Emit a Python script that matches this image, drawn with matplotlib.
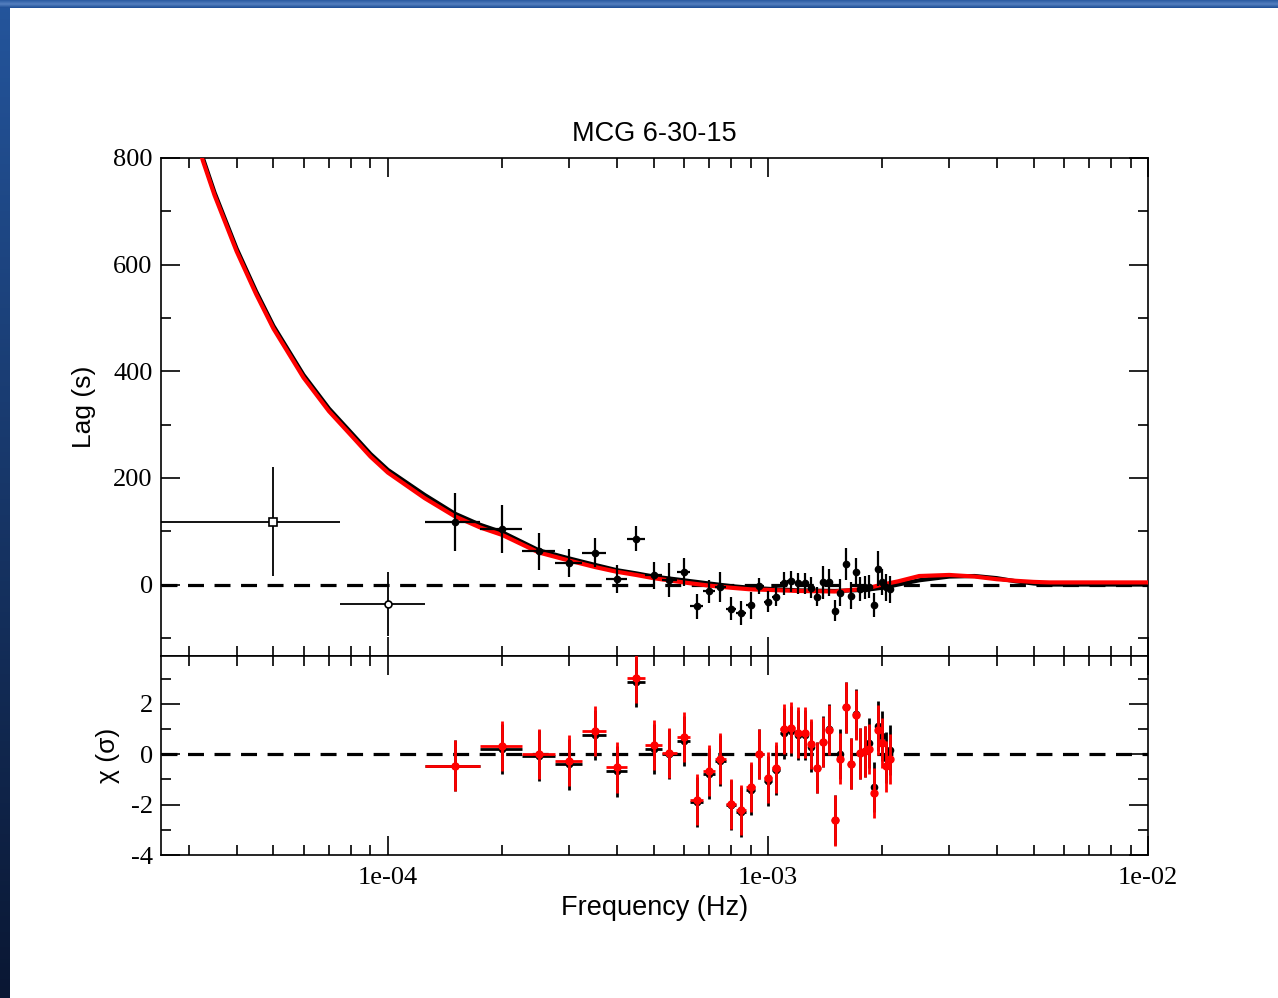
import numpy as np
import matplotlib
matplotlib.use("Agg")
import matplotlib.pyplot as plt
from matplotlib.colors import LinearSegmentedColormap
from matplotlib.ticker import LogLocator, NullFormatter, MultipleLocator

plt.rcParams["axes.unicode_minus"] = False

# ---- data -------------------------------------------------------------
freq = [5e-5, 1.0e-4, 1.5e-4, 2.0e-4, 2.5e-4, 3.0e-4, 3.5e-4, 4.0e-4, 4.5e-4, 5.0e-4,
        5.5e-4, 6.0e-4, 6.5e-4, 7.0e-4, 7.5e-4, 8.0e-4, 8.5e-4, 9.0e-4, 9.5e-4, 1.0e-3,
        1.05e-3, 1.1e-3, 1.15e-3, 1.2e-3, 1.25e-3, 1.3e-3, 1.35e-3, 1.4e-3, 1.45e-3, 1.5e-3,
        1.55e-3, 1.6e-3, 1.65e-3, 1.7e-3, 1.75e-3, 1.8e-3, 1.85e-3, 1.9e-3, 1.95e-3, 2.0e-3,
        2.05e-3, 2.1e-3]
bin_half = 2.5e-5
lag = [118, -36, 117, 105, 62, 41, 60, 11, 86, 17,
       9, 23, -41, -13, -5, -45, -53, -39, -2, -32,
       -23, 2, 6, 2, 2, -6, -23, 4, 4, -49,
       -15, 38, -21, 24, -8, -6, -4, -38, 30, 5,
       -5, -9]
lag_err = [102, 60, 55, 45, 35, 26, 28, 26, 24, 25,
           32, 26, 23, 21, 28, 22, 22, 25, 15, 19,
           18, 21, 20, 20, 20, 20, 18, 31, 25, 20,
           25, 30, 25, 25, 22, 22, 22, 22, 33, 25,
           25, 25]

# residuals (fitted points only: from 1.5e-4 Hz on)
chi_red = [-0.45, 0.33, 0.0, -0.25, 0.93, -0.52, 3.03, 0.36, 0.05, 0.68,
           -1.8, -0.65, -0.17, -1.98, -2.22, -1.3, 0.0, -0.93, -0.53, 1.0,
           1.06, 0.86, 0.86, 0.4, -0.53, 0.48, 0.97, -2.63, -0.17, 1.86,
           -0.37, 1.56, 0.03, 0.11, 0.2, -1.55, 0.97, 0.44, -0.48, -0.2]
chi_black = [-0.45, 0.2, -0.05, -0.4, 0.77, -0.68, 2.87, 0.2, 0.0, 0.52,
             -1.9, -0.77, -0.25, -2.02, -2.3, -1.4, 0.02, -1.05, -0.62, 0.83,
             0.93, 0.77, 0.77, 0.3, -0.53, 0.5, 1.0, -2.6, 0.0, 1.86,
             -0.37, 1.6, 0.03, 0.11, 0.44, -1.3, 1.13, 0.73, -0.13, 0.16]

# model curves
model_freq = [2.6e-5, 3.0e-5, 3.26e-5, 3.5e-5, 4e-5, 4.5e-5, 5e-5, 6e-5, 7e-5, 8e-5,
              9e-5, 1e-4, 1.25e-4, 1.5e-4, 1.75e-4, 2e-4, 2.5e-4, 3e-4, 3.5e-4, 4e-4,
              4.5e-4, 5e-4, 6e-4, 7e-4, 8e-4, 9e-4, 1e-3, 1.2e-3, 1.5e-3, 1.8e-3,
              2e-3, 2.2e-3, 2.5e-3, 3e-3, 3.5e-3, 4e-3, 4.5e-3, 5e-3, 5.5e-3, 6e-3,
              7e-3, 8e-3, 1e-2]
model_black = [1060, 890, 800, 735, 630, 550, 485, 393, 330, 285,
               245, 215, 168, 133, 112, 98, 64, 49, 37, 27,
               21, 15, 8, 2, -3, -6, -8, -11, -12, -10,
               -6, 0, 8, 15, 16, 12, 6, 2, 0, 0,
               0, 0, 0]
model_red = [1060, 885, 795, 730, 625, 545, 480, 388, 325, 280,
             240, 210, 162, 128, 107, 93, 60, 45, 33, 24,
             18, 12, 4, -2, -6, -9, -10, -12, -13, -8,
             0, 6, 16, 18, 15, 10, 7, 5, 4, 4,
             4, 4, 4]

# ---- figure -----------------------------------------------------------
fig = plt.figure(figsize=(12.78, 9.98), dpi=100)

# blue frame of the slide
gl = fig.add_axes([0, 0, 10 / 1278, 1])
gl.imshow(np.linspace(0, 1, 256)[:, None], aspect="auto",
          cmap=LinearSegmentedColormap.from_list("l", ["#24559c", "#0a1733"]))
gl.axis("off")
gt = fig.add_axes([0, 1 - 8 / 998, 1, 8 / 998])
gt.imshow(np.linspace(0, 1, 16)[:, None], aspect="auto",
          cmap=LinearSegmentedColormap.from_list("t", ["#2c5ca2", "#5580c0", "#1f4f96"]))
gt.axis("off")

L, R = 161 / 1278, 1148 / 1278
ax1 = fig.add_axes([L, 1 - 656 / 998, R - L, (656 - 158) / 998])
ax2 = fig.add_axes([L, 1 - 855 / 998, R - L, (855 - 656) / 998], sharex=ax1)

serif = "Liberation Serif"
sans = "Liberation Sans"

x = np.array(freq)
fitted = x[2:]

# top panel
ax1.plot(model_freq, model_black, color="black", lw=3.0, zorder=2)
ax1.axhline(0, color="black", lw=2.3, dashes=(5, 3.3), zorder=2.5)
ax1.plot(model_freq, model_red, color="red", lw=3.0, zorder=3)
ax1.errorbar(x[2:], lag[2:], xerr=bin_half, yerr=lag_err[2:], fmt="o", color="black",
             ms=4.5, elinewidth=1.6, capsize=0, zorder=4)
ax1.errorbar(x[0], lag[0], xerr=bin_half, yerr=lag_err[0], fmt="s", color="black",
             mfc="white", ms=6, mew=1.2, elinewidth=1.3, capsize=0, zorder=4)
ax1.errorbar(x[1], lag[1], xerr=bin_half, yerr=lag_err[1], fmt="o", color="black",
             mfc="white", ms=5, mew=1.2, elinewidth=1.3, capsize=0, zorder=4)
ax1.set_ylim(-134, 800)
ax1.set_title("MCG 6-30-15", fontsize=19.5, family=sans, pad=12)
ax1.set_ylabel("Lag (s)", fontsize=19, family=sans)
ax1.yaxis.set_label_coords(-0.066, 0.5)
ax1.yaxis.set_major_locator(MultipleLocator(200))
ax1.yaxis.set_minor_locator(MultipleLocator(100))
plt.setp(ax1.get_xticklabels(), visible=False)

# bottom panel
ax2.axhline(0, color="black", lw=2.3, dashes=(5, 3.3), zorder=1)
ax2.errorbar(fitted, chi_black, xerr=bin_half, yerr=1, fmt="o", color="black",
             ms=4.5, elinewidth=2.0, capsize=0, zorder=2)
ax2.errorbar(fitted, chi_red, xerr=bin_half, yerr=1, fmt="o", color="red",
             ms=5, elinewidth=2.0, capsize=0, zorder=3)
ax2.set_ylim(-4, 3.9)
ax2.set_ylabel("χ (σ)", fontsize=19, family=sans)
ax2.yaxis.set_label_coords(-0.042, 0.5)
ax2.yaxis.set_major_locator(MultipleLocator(2))
ax2.yaxis.set_minor_locator(MultipleLocator(1))
ax2.set_xlabel("Frequency (Hz)", fontsize=19.5, family=sans, labelpad=4)

ax2.set_xscale("log")
ax2.set_xlim(2.53e-5, 1e-2)
ax2.xaxis.set_major_locator(LogLocator(base=10, numticks=10))
ax2.xaxis.set_minor_locator(LogLocator(base=10, subs=np.arange(2, 10), numticks=10))
ax2.xaxis.set_minor_formatter(NullFormatter())
ax2.set_xticks([1e-4, 1e-3, 1e-2], ["1e-04", "1e-03", "1e-02"])

for ax in (ax1, ax2):
    ax.tick_params(which="both", direction="in", top=True, right=True, width=1.2)
    ax.tick_params(which="major", length=14)
    ax.tick_params(which="minor", length=7)
    ax.tick_params(axis="y", pad=6)
    ax.tick_params(axis="x", pad=9)
    for lab in ax.get_xticklabels() + ax.get_yticklabels():
        lab.set_fontfamily(serif)
        lab.set_fontsize(19)
    for s in ax.spines.values():
        s.set_linewidth(1.2)

fig.savefig("out.png", dpi=100)
